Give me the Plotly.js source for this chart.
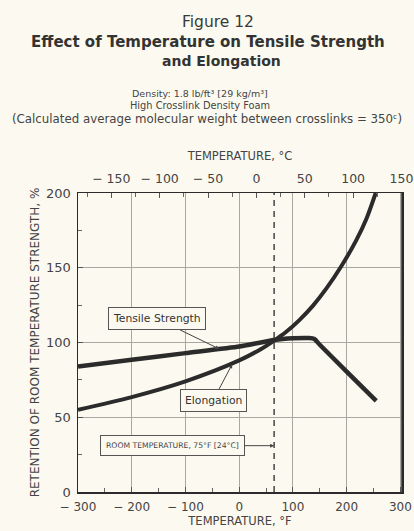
<!DOCTYPE html>
<html>
<head>
<meta charset="utf-8">
<script src="https://cdn.plot.ly/plotly-3.0.1.min.js"></script>
<style>html,body{margin:0;padding:0;background:#fcfaf0;}#chart{width:414px;height:531px;}</style>
</head>
<body>
<div id="chart"></div>
<script>
// Data
const tsTempF = [-300, -200, -100, 0, 65, 100, 130, 140, 150, 200, 255];
const tensileStrength = [84, 88.4, 92.9, 97.3, 101.7, 102.8, 103, 102.3, 98.5, 80.5, 61];
const elTempF = [-300, -200, -100, 0, 40, 65, 87, 112, 137, 162, 190, 218, 237, 254];
const elongation = [55, 63.5, 74, 88, 95.5, 101.3, 107, 115, 124.5, 136, 151, 168.5, 183, 200];
const roomTempF = 65;
const fTickVals = [-300, -200, -100, 0, 100, 200, 300];
const fTickText = ['\u2212 300', '\u2212 200', '\u2212 100', '0', '100', '200', '300'];
const cTickVals = [-150, -100, -50, 0, 50, 100, 150];
const cTickText = ['\u2212 150', '\u2212 100', '\u2212 50', '0', '50', '100', '150'];
const yTickVals = [0, 50, 100, 150, 200];

const c2f = c => c * 9 / 5 + 32;
const ink = '#2b2b2b';
const font = 'DejaVu Sans, sans-serif';
const px = p => (p - 78) / 324;   // page pixel -> paper x

const traces = [
  {x: tsTempF, y: tensileStrength, mode: 'lines', name: 'Tensile Strength',
   line: {color: ink, width: 4.5, shape: 'spline', smoothing: 0.5}, hoverinfo: 'x+y'},
  {x: elTempF, y: elongation, mode: 'lines', name: 'Elongation',
   line: {color: ink, width: 4, shape: 'spline', smoothing: 0.8}, hoverinfo: 'x+y'},
  {x: cTickVals.map(c2f), y: cTickVals.map(() => null), xaxis: 'x2', yaxis: 'y', mode: 'lines',
   showlegend: false, hoverinfo: 'skip'}
];

const axisCommon = {
  showline: true, linecolor: ink, linewidth: 1.5, mirror: false,
  ticks: 'inside', ticklen: 5, tickcolor: '#555', zeroline: false,
  tickfont: {family: font, size: 12, color: '#444'}
};

const layout = {
  width: 414, height: 531,
  paper_bgcolor: '#fcfaf0', plot_bgcolor: '#fcfaf0',
  margin: {l: 78, r: 12, t: 193, b: 39},
  showlegend: false,
  font: {family: font, color: '#3a3a3a'},
  xaxis: Object.assign({}, axisCommon, {
    range: [-300, 303], tickvals: fTickVals, ticktext: fTickText,
    showgrid: true, gridcolor: '#a8a8a0', gridwidth: 1,
    ticklabelstandoff: 3,
    minor: {dtick: 50, tick0: 0, ticks: 'inside', ticklen: 4, tickcolor: '#666', showgrid: false},
    title: {text: 'TEMPERATURE, \u00b0F', font: {family: font, size: 11.5, color: '#444'}, standoff: 1}
  }),
  xaxis2: Object.assign({}, axisCommon, {
    overlaying: 'x', side: 'top', matches: 'x', range: [-300, 303],
    tickvals: cTickVals.map(c2f), ticktext: cTickText, showgrid: false, showline: true,
    ticklabelstandoff: 4,
    tickfont: {family: font, size: 12.5, color: '#444'},
    minor: {dtick: 45, tick0: 32, ticks: 'inside', ticklen: 4, tickcolor: '#666', showgrid: false},
    title: {text: 'TEMPERATURE, \u00b0C', font: {family: font, size: 11.5, color: '#444'}, standoff: 7}
  }),
  yaxis: Object.assign({}, axisCommon, {
    range: [0, 200], tickvals: yTickVals, showgrid: true, gridcolor: '#a8a8a0',
    mirror: true, ticklabelstandoff: 3,
    tickfont: {family: font, size: 13, color: '#444'},
    minor: {dtick: 25, ticks: 'inside', ticklen: 4, tickcolor: '#666', showgrid: false},
    title: {text: 'RETENTION OF ROOM TEMPERATURE STRENGTH, %', font: {family: font, size: 12, color: '#444'}, standoff: 4}
  }),
  shapes: [
    {type: 'line', xref: 'x', yref: 'paper', x0: roomTempF, x1: roomTempF, y0: 0, y1: 1,
     line: {color: '#444', width: 1.5, dash: '6px,5px'}},
    {type: 'line', xref: 'paper', yref: 'paper', x0: 1, x1: 1, y0: 0, y1: 1, line: {color: ink, width: 1.5}}
  ],
  annotations: [
    {text: 'Figure 12', xref: 'paper', yref: 'paper', x: px(218), y: 1.572, showarrow: false,
     font: {family: font, size: 15.5, color: '#3a3a3a'}, xanchor: 'center', yanchor: 'middle'},
    {text: '<b>Effect of Temperature on Tensile Strength</b>', xref: 'paper', yref: 'paper', x: px(208), y: 1.505, showarrow: false,
     font: {family: font, size: 15, color: '#333'}, xanchor: 'center', yanchor: 'middle'},
    {text: '<b>and Elongation</b>', xref: 'paper', yref: 'paper', x: px(221), y: 1.441, showarrow: false,
     font: {family: font, size: 14, color: '#333'}, xanchor: 'center', yanchor: 'middle'},
    {text: 'Density: 1.8 lb/ft\u00b3 [29 kg/m\u00b3]', xref: 'paper', yref: 'paper', x: px(200), y: 1.334, showarrow: false,
     font: {family: font, size: 9.5, color: '#444'}, xanchor: 'center', yanchor: 'middle'},
    {text: 'High Crosslink Density Foam', xref: 'paper', yref: 'paper', x: px(200), y: 1.291, showarrow: false,
     font: {family: font, size: 9.8, color: '#444'}, xanchor: 'center', yanchor: 'middle'},
    {text: '(Calculated average molecular weight between crosslinks = 350\u1d9c)', xref: 'paper', yref: 'paper', x: px(207), y: 1.247, showarrow: false,
     font: {family: font, size: 11.8, color: '#444'}, xanchor: 'center', yanchor: 'middle'},
    {text: 'Tensile Strength', x: -37, y: 95.7, ax: -62, ay: -30, showarrow: true, arrowhead: 2, arrowsize: 0.8,
     arrowwidth: 1, arrowcolor: '#444', bordercolor: '#555', borderwidth: 1, borderpad: 4, bgcolor: '#fcfaf0',
     font: {family: font, size: 10.8, color: '#333'}},
    {text: 'Elongation', x: -13, y: 85.5, ax: -19, ay: 36, showarrow: true, arrowhead: 2, arrowsize: 0.8,
     arrowwidth: 1, arrowcolor: '#444', bordercolor: '#555', borderwidth: 1, borderpad: 4, bgcolor: '#fcfaf0',
     font: {family: font, size: 10.8, color: '#333'}},
    {text: 'ROOM TEMPERATURE, 75\u00b0F [24\u00b0C]', x: roomTempF, y: 31, ax: -102, ay: 0, showarrow: true, arrowhead: 2, arrowsize: 0.8,
     arrowwidth: 1, arrowcolor: '#444', bordercolor: '#555', borderwidth: 1, borderpad: 5, bgcolor: '#fcfaf0',
     font: {family: font, size: 7.7, color: '#444'}}
  ]
};

Plotly.newPlot('chart', traces, layout, {displayModeBar: false, staticPlot: true});
</script>
</body>
</html>
